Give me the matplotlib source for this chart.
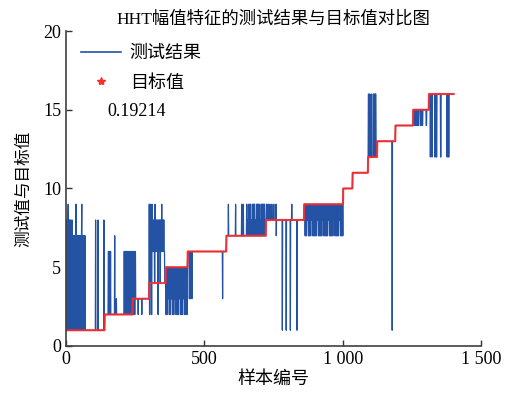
import numpy as np
import matplotlib
matplotlib.use('Agg')
import matplotlib.pyplot as plt
from matplotlib.lines import Line2D

plt.rcParams['font.family'] = ['Liberation Serif', 'Noto Sans CJK SC']
plt.rcParams['axes.unicode_minus'] = False

# target value per class: class k starts at class_starts[k]
n_samples = 1402
class_starts = [0, 140, 241, 301, 361, 440, 580, 723, 861, 1002, 1036,
                1092, 1125, 1191, 1255, 1312]
class_levels = [1, 2, 3, 4, 5, 6, 7, 8, 9, 10, 11, 12, 13, 14, 15, 16]

# test output as (sample where the level begins, level)
test_starts = [
    0, 2, 4, 6, 8, 9, 11, 13, 15, 17, 19, 21, 23, 25, 27, 29, 31, 33, 36, 37,
    39, 41, 43, 45, 47, 49, 51, 53, 55, 57, 58, 60, 62, 64, 66, 68, 70, 107,
    108, 116, 117, 137, 138,
    140, 153, 155, 157, 159, 161, 162, 176, 177, 182, 183, 210, 212, 214, 216,
    218, 220, 222, 224, 226, 228, 230, 232, 234, 236, 238, 240,
    242, 244, 246, 248, 250, 252, 261, 262, 274, 275,
    301, 302, 304, 305, 307, 309, 311, 312, 314, 316, 318, 320, 322, 323, 325,
    327, 329, 331, 333, 334, 336, 338, 340, 342, 344, 346, 347, 349, 351, 353,
    355, 357,
    361, 363, 365, 367, 369, 371, 373, 375, 377, 379, 381, 383, 385, 387, 389,
    391, 393, 395, 397, 399, 401, 403, 405, 407, 409, 411, 413, 415, 417, 419,
    421, 423, 425, 427, 429, 431, 433, 435, 437, 439,
    440, 446, 447, 449, 450, 455, 456, 566, 567,
    580, 587, 588, 613, 614, 635, 636, 641, 642, 653, 655, 657, 659, 661, 663,
    665, 667, 669, 671, 673, 675, 677, 679, 681, 683, 685, 687, 689, 691, 693,
    695, 697, 699, 701, 703, 705, 707, 709, 711, 713, 715, 717, 719,
    723, 725, 727, 731, 732, 737, 738, 744, 745, 751, 752, 759, 760, 761, 782,
    783, 796, 797, 811, 812, 816, 817, 835, 836,
    861, 864, 866, 868, 870, 872, 874, 876, 878, 880, 882, 884, 886, 888, 890,
    892, 894, 896, 898, 900, 902, 904, 906, 908, 910, 912, 914, 916, 918, 920,
    922, 924, 926, 928, 930, 932, 934, 936, 938, 940, 942, 944, 946, 948, 950,
    952, 954, 956, 958, 960, 962, 964, 966, 968, 970, 972, 974, 976, 978, 980,
    982, 984, 986, 988, 990, 992, 994, 996, 998, 1000,
    1002, 1036,
    1092, 1093, 1095, 1098, 1099, 1104, 1105, 1111, 1112, 1114, 1116, 1118,
    1121,
    1125, 1179, 1180, 1191,
    1255, 1258, 1260, 1262, 1264, 1266, 1268, 1270, 1272, 1274, 1276, 1282,
    1284, 1288, 1290, 1302, 1304,
    1312, 1317, 1318, 1323, 1324, 1333, 1335, 1339, 1341, 1354, 1356, 1377,
    1379, 1383, 1385,
]
test_levels = [
    1, 8, 1, 8, 9, 1, 8, 1, 8, 1, 3, 8, 1, 7, 1, 7, 1, 7, 9, 1,
    7, 1, 7, 1, 7, 1, 7, 1, 7, 9, 1, 7, 1, 7, 1, 7, 1, 8,
    1, 8, 1, 8, 1,
    2, 6, 2, 6, 2, 6, 2, 7, 2, 3, 2, 6, 2, 6, 2,
    6, 2, 6, 2, 6, 2, 6, 2, 6, 2, 6, 2,
    6, 2, 6, 2, 6, 3, 2, 3, 2, 3,
    9, 2, 9, 4, 8, 2, 9, 6, 8, 6, 8, 4, 9, 6, 8,
    6, 8, 6, 2, 8, 6, 8, 4, 8, 6, 9, 6, 8, 6, 8,
    6, 4,
    2, 5, 2, 5, 3, 5, 2, 5, 2, 5, 3, 5, 2, 5, 2,
    5, 3, 5, 2, 5, 2, 5, 2, 5, 3, 5, 2, 5, 2, 5,
    2, 5, 3, 5, 2, 5, 2, 5, 2, 5,
    6, 3, 6, 3, 6, 3, 6, 3, 6,
    7, 9, 7, 9, 7, 9, 7, 9, 7, 9, 7, 8, 7, 9, 7,
    9, 7, 8, 7, 9, 7, 9, 7, 9, 7, 8, 7, 9, 7, 9,
    7, 9, 7, 8, 7, 9, 7, 9, 7, 9, 7, 9, 7,
    8, 9, 8, 9, 8, 9, 8, 9, 8, 9, 8, 9, 7, 8, 1,
    8, 1, 8, 1, 8, 9, 8, 1, 8,
    9, 7, 9, 7, 9, 8, 9, 7, 9, 7, 9, 7, 9, 8, 9,
    7, 9, 7, 9, 7, 9, 7, 9, 8, 9, 7, 9, 7, 9, 7,
    9, 7, 9, 8, 9, 7, 9, 7, 9, 7, 9, 7, 9, 8, 9,
    7, 9, 7, 9, 7, 9, 7, 9, 8, 9, 7, 9, 7, 9, 7,
    9, 7, 9, 8, 9, 7, 9, 7, 9, 7,
    10, 11,
    12, 16, 12, 16, 12, 16, 12, 16, 12, 16, 12, 16,
    12,
    13, 1, 13, 14,
    15, 14, 15, 14, 15, 14, 15, 14, 15, 14, 15, 14,
    15, 14, 15, 14, 15,
    16, 12, 16, 12, 16, 12, 16, 12, 16, 12, 16, 12,
    16, 12, 16,
]

x_ticks = [0, 500, 1000, 1500]
x_tick_labels = ['0', '500', '1 000', '1 500']
y_ticks = [0, 5, 10, 15, 20]
score_text = '0.19214'

samples = np.arange(n_samples)
target = np.repeat(class_levels, np.diff(class_starts + [n_samples]))
test = np.repeat(test_levels, np.diff(test_starts + [n_samples]))

fig = plt.figure(figsize=(5.14, 3.96), dpi=100)
ax = fig.add_axes([0.1284, 0.1263, 0.8074, 0.7954])

blue = '#2452a4'
red = '#ff2a2a'
ax.plot(samples, test, color=blue, linewidth=0.9)
ax.plot(samples, target, color=red, linewidth=1.5, alpha=0.9)

ax.set_xlim(0, 1500)
ax.set_ylim(0, 20)
ax.set_xticks(x_ticks)
ax.set_xticklabels(x_tick_labels)
ax.set_yticks(y_ticks)
ax.tick_params(direction='in', labelsize=13, length=4, color='#333333',
               width=1)
for side in ['top', 'right']:
    ax.spines[side].set_visible(False)
for side in ['left', 'bottom']:
    ax.spines[side].set_color('#404040')
    ax.spines[side].set_linewidth(1.2)

ax.set_xlabel('样本编号', fontsize=13, labelpad=2)
ax.set_ylabel('测试值与目标值', fontsize=12, labelpad=8)
ax.set_title('HHT幅值特征的测试结果与目标值对比图', fontsize=12.5, pad=5)

handles = [Line2D([], [], color=blue, linewidth=1.2),
           Line2D([], [], color=red, marker='*', linestyle='none',
                  markersize=6)]
ax.legend(handles, ['测试结果', '目标值'], loc='upper left', frameon=False,
          fontsize=13, handlelength=2.2, handletextpad=0.5,
          labelspacing=0.7, bbox_to_anchor=(0.01, 0.99), borderaxespad=0.2)
fig.text(107 / 514, 1 - 112 / 396, score_text, fontsize=13, va='center',
         ha='left')

fig.savefig('out.png', dpi=100)
